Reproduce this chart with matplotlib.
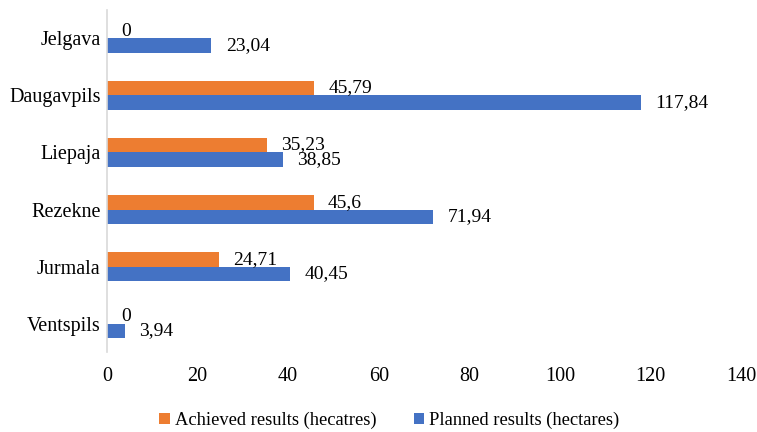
import matplotlib.pyplot as plt
import numpy as np

# Data (bottom to top, as drawn)
cities = ['Ventspils', 'Jurmala', 'Rezekne', 'Liepaja', 'Daugavpils', 'Jelgava']
achieved = [0, 24.71, 45.6, 35.23, 45.79, 0]
planned = [3.94, 40.45, 71.94, 38.85, 117.84, 23.04]
x_ticks = [0, 20, 40, 60, 80, 100, 120, 140]


def fmt(v):
    return f"{v:g}".replace('.', ',')


def plot_chart():
    plt.rcParams['font.family'] = ['Liberation Serif', 'DejaVu Serif']
    fig = plt.figure(figsize=(7.57, 4.32), dpi=100)
    ax = fig.add_axes([0.1413, 0.185, 0.8377, 0.792])

    y = np.arange(len(cities))
    h = 0.26
    b_ach = ax.barh(y + h / 2, achieved, height=h, color='#ED7D31',
                    label='Achieved results (hecatres)')
    b_pln = ax.barh(y - h / 2, planned, height=h, color='#4472C4',
                    label='Planned results (hectares)')

    ax.bar_label(b_ach, labels=[fmt(v) for v in achieved], padding=10.5, fontsize=14)
    ax.bar_label(b_pln, labels=[fmt(v) for v in planned], padding=10.5, fontsize=14)

    ax.set_xlim(0, 140)
    ax.set_ylim(-0.5, len(cities) - 0.5)
    ax.set_xticks(x_ticks)
    ax.set_yticks(y)
    ax.set_yticklabels(cities)
    ax.tick_params(length=0, labelsize=14.5)
    ax.tick_params(axis='x', pad=11)
    ax.tick_params(axis='y', pad=4.5)

    for s in ['top', 'right', 'bottom']:
        ax.spines[s].set_visible(False)
    ax.spines['left'].set_color('#d9d9d9')
    ax.spines['left'].set_linewidth(1.2)

    fig.legend(loc='center', bbox_to_anchor=(0.5145, 0.026), ncol=2,
               frameon=False, fontsize=13.3, handlelength=0.55, handleheight=0.55,
               handletextpad=0.3, columnspacing=2.0, borderpad=0)

    fig.savefig('out.png', dpi=100)


if __name__ == "__main__":
    plot_chart()
